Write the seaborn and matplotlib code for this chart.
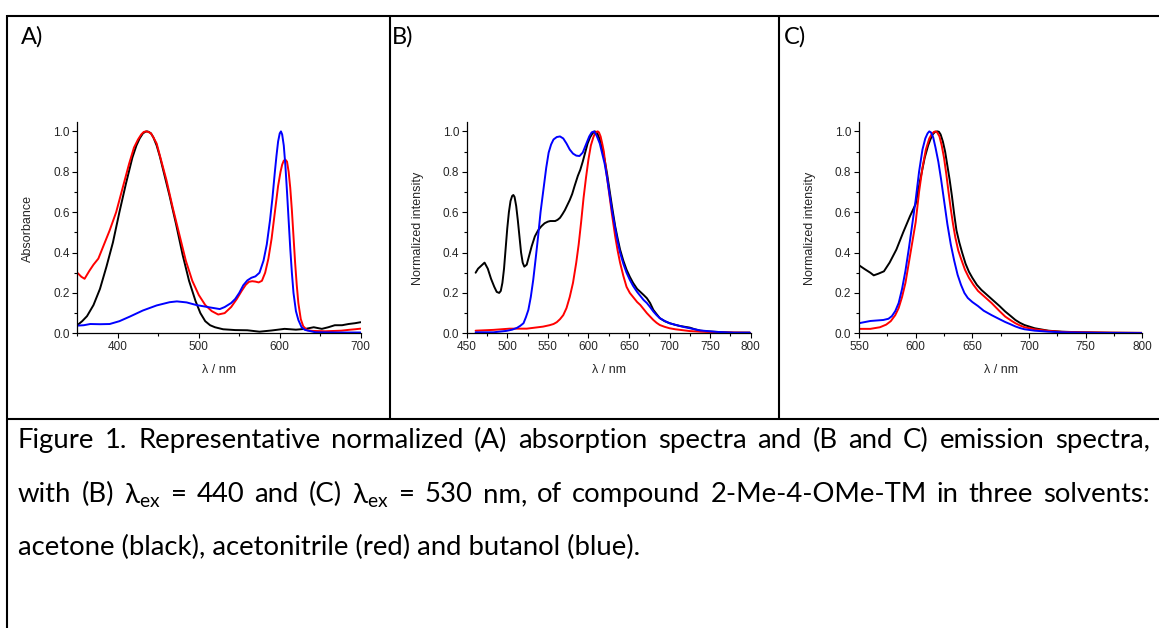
import numpy as np
import pandas as pd
import matplotlib
matplotlib.use("Agg")
import matplotlib.pyplot as plt
from matplotlib.lines import Line2D
from matplotlib.ticker import MultipleLocator, FormatStrFormatter
import seaborn as sns

# ---------------- data ----------------
# Panel A: absorption
A_black_x = [350, 356, 362, 370, 378, 386, 394, 402, 410, 418, 423, 427, 431, 434, 436, 438, 441, 444, 448, 452, 456,
             464, 472, 480, 488, 496, 502, 508, 514, 520, 530, 545, 560, 575, 590, 606, 620, 632, 642, 652, 660,
             668, 677, 685, 693, 700]
A_black_y = [0.04, 0.06, 0.085, 0.14, 0.22, 0.33, 0.45, 0.60, 0.74, 0.87, 0.93, 0.965, 0.99, 0.998, 1.0, 0.998,
             0.99, 0.97, 0.93, 0.875, 0.81, 0.68, 0.54, 0.39, 0.26, 0.16, 0.10, 0.06, 0.04, 0.03, 0.02, 0.016,
             0.015, 0.008, 0.014, 0.022, 0.018, 0.022, 0.03, 0.022, 0.03, 0.04, 0.04, 0.046, 0.05, 0.055]
A_red_x = [350, 355, 359, 365, 370, 376, 382, 390, 398, 406, 414, 420, 425, 429, 432, 435, 438, 441, 444, 448, 452,
           460, 468, 476, 484, 492, 500, 508, 516, 524, 532, 540, 547, 553, 558, 562, 566, 570, 574, 578, 582, 586,
           590, 594, 598, 601, 603, 605, 607, 609, 611, 613, 615, 617, 619, 621, 623, 626, 629, 634, 640, 656, 676,
           685, 693, 700]
A_red_y = [0.30, 0.28, 0.27, 0.31, 0.34, 0.37, 0.43, 0.51, 0.60, 0.72, 0.84, 0.92, 0.96, 0.985, 0.997, 1.0, 0.997,
           0.99, 0.97, 0.94, 0.88, 0.76, 0.62, 0.49, 0.36, 0.26, 0.19, 0.14, 0.11, 0.093, 0.10, 0.13, 0.17, 0.21,
           0.24, 0.255, 0.258, 0.256, 0.252, 0.26, 0.30, 0.37, 0.47, 0.60, 0.73, 0.80, 0.835, 0.855, 0.86, 0.85,
           0.80, 0.72, 0.61, 0.48, 0.35, 0.24, 0.15, 0.07, 0.035, 0.015, 0.012, 0.01, 0.013, 0.017, 0.02, 0.023]
A_blue_x = [350, 358, 366, 378, 390, 402, 415, 431, 448, 464, 473, 485, 497, 514, 526, 532, 540, 545, 550, 555, 560,
            565, 570, 575, 580, 584, 588, 591, 594, 596, 598, 600, 601.5, 603, 605, 607, 609, 611, 613, 615, 617,
            620, 623, 627, 631, 644, 670, 700]
A_blue_y = [0.038, 0.04, 0.046, 0.045, 0.046, 0.06, 0.083, 0.113, 0.138, 0.154, 0.158, 0.153, 0.14, 0.128, 0.12,
            0.13, 0.15, 0.17, 0.2, 0.238, 0.262, 0.275, 0.282, 0.3, 0.36, 0.44, 0.56, 0.67, 0.80, 0.88, 0.95, 0.99,
            1.0, 0.985, 0.93, 0.83, 0.70, 0.56, 0.42, 0.30, 0.20, 0.11, 0.066, 0.03, 0.017, 0.005, 0.004, 0.004]

# Panel B: emission, lambda_ex = 440 nm
B_black_x = [461, 464, 468, 472, 476, 480, 484, 487, 490, 492, 494, 496, 498, 500, 502, 504, 506, 507.5, 509, 511,
             513, 515, 517, 519, 521, 524, 527, 530, 534, 538, 542, 546, 550, 553, 556, 559, 562, 565, 568, 571, 574,
             577, 580, 583, 587, 590, 593, 596, 599, 602, 605, 608, 611, 614, 617, 620, 623, 626, 629, 633, 636, 639,
             643, 647, 651, 655, 660, 664, 668, 672, 676, 680, 684, 688, 694, 700, 707, 713, 719, 725, 731, 738, 748,
             758, 768, 779, 789, 799]
B_black_y = [0.30, 0.32, 0.335, 0.35, 0.32, 0.27, 0.23, 0.205, 0.2, 0.21, 0.25, 0.32, 0.42, 0.52, 0.60, 0.655, 0.68,
             0.685, 0.675, 0.63, 0.56, 0.48, 0.40, 0.35, 0.33, 0.34, 0.385, 0.43, 0.48, 0.51, 0.53, 0.545, 0.553,
             0.556, 0.556, 0.556, 0.562, 0.572, 0.59, 0.61, 0.635, 0.66, 0.69, 0.73, 0.78, 0.81, 0.85, 0.895, 0.94,
             0.97, 0.99, 1.0, 0.99, 0.96, 0.91, 0.86, 0.79, 0.71, 0.63, 0.53, 0.47, 0.415, 0.36, 0.315, 0.28, 0.25,
             0.22, 0.205, 0.19, 0.174, 0.15, 0.116, 0.095, 0.075, 0.06, 0.05, 0.042, 0.036, 0.032, 0.028, 0.02,
             0.013, 0.009, 0.007, 0.005, 0.003, 0.003, 0.003]
B_red_x = [461, 483, 503, 524, 544, 552, 557, 561, 565, 569, 573, 577, 581, 585, 588, 591, 594, 597, 600, 603, 606,
           608, 610, 611.5, 613, 615, 617, 619, 622, 626, 629, 633, 636, 639, 643, 647, 651, 655, 660, 664, 668, 672,
           676, 680, 684, 688, 694, 700, 707, 713, 725, 738, 758, 779, 799]
B_red_y = [0.013, 0.017, 0.023, 0.023, 0.033, 0.04, 0.046, 0.055, 0.07, 0.09, 0.125, 0.18, 0.25, 0.35, 0.44, 0.55,
           0.67, 0.77, 0.86, 0.93, 0.97, 0.99, 0.998, 1.0, 0.995, 0.975, 0.94, 0.90, 0.80, 0.68, 0.59, 0.48, 0.41,
           0.35, 0.285, 0.23, 0.2, 0.18, 0.155, 0.14, 0.12, 0.10, 0.083, 0.066, 0.052, 0.041, 0.032, 0.025, 0.02,
           0.017, 0.011, 0.008, 0.005, 0.004, 0.003]
B_blue_x = [461, 483, 499, 506, 512, 516, 520, 523, 526, 529, 532, 535, 538, 541, 544.5, 548, 551, 554, 557, 561, 565,
            569, 573, 577, 581, 585, 589, 593, 597, 601, 604, 607, 610, 614, 617, 620, 623, 626, 629, 633, 636, 639,
            643, 647, 651, 655, 660, 664, 668, 672, 676, 680, 684, 688, 694, 700, 707, 713, 719, 725, 738, 758, 779,
            799]
B_blue_y = [0.005, 0.005, 0.012, 0.018, 0.027, 0.037, 0.05, 0.08, 0.116, 0.18, 0.265, 0.37, 0.48, 0.60, 0.71, 0.82,
            0.895, 0.935, 0.96, 0.972, 0.975, 0.965, 0.94, 0.91, 0.89, 0.88, 0.878, 0.895, 0.935, 0.975, 0.995, 1.0,
            0.98, 0.94, 0.89, 0.84, 0.77, 0.69, 0.61, 0.52, 0.455, 0.40, 0.345, 0.30, 0.265, 0.235, 0.205, 0.185,
            0.165, 0.15, 0.13, 0.108, 0.09, 0.075, 0.061, 0.05, 0.042, 0.036, 0.03, 0.025, 0.014, 0.007, 0.003,
            0.003]

# Panel C: emission, lambda_ex = 530 nm
C_black_x = [550, 555, 560, 563, 567, 572, 577, 583, 589, 595, 600, 604, 608, 611, 613, 615, 617, 619, 620.5, 622,
             624, 626, 628, 630, 632, 634, 636, 638.5, 641, 644, 647, 650, 654, 658, 662, 667, 674, 679, 684, 688,
             692, 696, 705, 717, 729, 746, 773, 800]
C_black_y = [0.337, 0.318, 0.30, 0.287, 0.295, 0.307, 0.35, 0.415, 0.50, 0.58, 0.64, 0.76, 0.87, 0.93, 0.96, 0.985,
             0.997, 1.0, 0.998, 0.985, 0.95, 0.90, 0.83, 0.76, 0.68, 0.59, 0.51, 0.45, 0.40, 0.345, 0.305, 0.275,
             0.24, 0.215, 0.195, 0.17, 0.135, 0.108, 0.085, 0.066, 0.052, 0.041, 0.025, 0.013, 0.008, 0.005, 0.003,
             0.002]
C_red_x = [550, 560, 568.5, 574, 578, 582, 585, 588, 591, 594, 597, 600, 603, 606, 609, 612, 614, 616, 617.5, 619,
           621, 623, 625, 627, 629, 631, 633, 635, 637.6, 640, 643.5, 647, 651, 655, 660, 667, 674, 679, 684, 688,
           692, 696, 705, 717, 729, 746, 773, 800]
C_red_y = [0.022, 0.022, 0.03, 0.043, 0.06, 0.09, 0.125, 0.18, 0.25, 0.35, 0.45, 0.55, 0.70, 0.82, 0.91, 0.965,
           0.985, 0.997, 1.0, 0.995, 0.975, 0.93, 0.87, 0.79, 0.70, 0.615, 0.54, 0.475, 0.41, 0.37, 0.315, 0.275,
           0.24, 0.21, 0.185, 0.15, 0.11, 0.083, 0.064, 0.05, 0.039, 0.03, 0.02, 0.012, 0.007, 0.005, 0.003, 0.002]
C_blue_x = [550, 560, 571.5, 576, 579, 582, 585, 588, 591, 594, 597, 600, 603, 606, 608.5, 610.5, 612, 613.5, 615.5,
            617.5, 620, 622.5, 625, 628, 631, 634, 637, 640, 643, 646, 650, 655, 660, 667, 674, 679, 684, 688, 692,
            696, 705, 717, 729, 760, 800]
C_blue_y = [0.05, 0.061, 0.066, 0.072, 0.085, 0.11, 0.15, 0.22, 0.31, 0.42, 0.54, 0.66, 0.80, 0.91, 0.965, 0.99,
            1.0, 0.995, 0.97, 0.92, 0.85, 0.76, 0.66, 0.54, 0.44, 0.36, 0.29, 0.24, 0.2, 0.175, 0.155, 0.135, 0.112,
            0.09, 0.07, 0.056, 0.044, 0.034, 0.026, 0.02, 0.013, 0.008, 0.005, 0.002, 0.001]

panel_letters = ["A)", "B)", "C)"]
y_labels = ["Absorbance", "Normalized intensity", "Normalized intensity"]
x_label = "λ / nm"
x_limits = [(350, 700), (450, 800), (550, 800)]
x_major = [100, 50, 50]
x_minor = [50, 25, 25]

caption_lines = [
    "Figure 1. Representative normalized (A) absorption spectra and (B and C) emission spectra,",
    r"with (B) λ$_{\mathregular{ex}}$ = 440 and (C) λ$_{\mathregular{ex}}$ = 530 nm, of compound 2-Me-4-OMe-TM in three solvents:",
    "acetone (black), acetonitrile (red) and butanol (blue).",
]

series = {
    0: [(A_black_x, A_black_y, "black"), (A_red_x, A_red_y, "red"), (A_blue_x, A_blue_y, "blue")],
    1: [(B_black_x, B_black_y, "black"), (B_red_x, B_red_y, "red"), (B_blue_x, B_blue_y, "blue")],
    2: [(C_black_x, C_black_y, "black"), (C_red_x, C_red_y, "red"), (C_blue_x, C_blue_y, "blue")],
}
color_map = {"black": "#000000", "red": "#ff0000", "blue": "#0000ff"}

# ---------------- style ----------------
sns.set_style("ticks")
plt.rcParams["font.family"] = ["Liberation Sans", "DejaVu Sans"]
plt.rcParams["mathtext.fontset"] = "custom"

W, H = 1159, 628
fig = plt.figure(figsize=(W / 100, H / 100), dpi=100)
fig.patch.set_facecolor("white")

def px_rect(left, top, right, bottom):
    return [left / W, 1 - bottom / H, (right - left) / W, (bottom - top) / H]

axes_px = [(77.3, 122.3, 360.7, 333.3), (466.7, 122.3, 750.7, 333.3), (859.0, 122.3, 1142.3, 333.3)]
tick_col = "#262626"

for i, (l, t, r, b) in enumerate(axes_px):
    ax = fig.add_axes(px_rect(l, t, r, b))
    for xs, ys, cname in series[i]:
        df = pd.DataFrame({"x": xs, "y": ys})
        sns.lineplot(data=df, x="x", y="y", ax=ax, color=color_map[cname], linewidth=1.4,
                     estimator=None, sort=False, legend=False)
    ax.set_xlim(*x_limits[i])
    ax.set_ylim(0, 1.045)
    ax.xaxis.set_major_locator(MultipleLocator(x_major[i]))
    ax.xaxis.set_minor_locator(MultipleLocator(x_minor[i]))
    ax.yaxis.set_major_locator(MultipleLocator(0.2))
    ax.yaxis.set_minor_locator(MultipleLocator(0.1))
    ax.yaxis.set_major_formatter(FormatStrFormatter("%.1f"))
    ax.tick_params(which="major", direction="out", length=3.5, width=0.8, labelsize=8.5,
                   colors="black", labelcolor=tick_col, pad=2)
    ax.tick_params(which="minor", direction="out", length=2, width=0.8, colors="black")
    for s in ["top", "right"]:
        ax.spines[s].set_visible(False)
    for s in ["left", "bottom"]:
        ax.spines[s].set_linewidth(0.9)
        ax.spines[s].set_color("black")
    ax.set_xlabel(x_label, fontsize=9, color=tick_col)
    ax.set_ylabel(y_labels[i], fontsize=9, color=tick_col)
    wpx = r - l
    hpx = b - t
    ax.yaxis.set_label_coords(-43 / wpx, (333.3 - 228) / hpx)
    ax.xaxis.set_label_coords(0.5, -31 / hpx)
    ax.set_facecolor("white")

# ---------------- table frame ----------------
lw = 1.5
def hline(y, x0, x1):
    fig.add_artist(Line2D([x0 / W, x1 / W], [1 - y / H, 1 - y / H], color="black", lw=lw,
                          transform=fig.transFigure, solid_capstyle="butt"))
def vline(x, y0, y1):
    fig.add_artist(Line2D([x / W, x / W], [1 - y0 / H, 1 - y1 / H], color="black", lw=lw,
                          transform=fig.transFigure, solid_capstyle="butt"))

hline(15.7, 6.5, W)
hline(419.0, 6.5, W)
vline(7.3, 15.0, H)
vline(390.3, 15.0, 419.5)
vline(779.0, 15.0, 419.5)

# ---------------- panel letters ----------------
cap_font = ["Lato", "DejaVu Sans"]
for letter, xpx in zip(panel_letters, [21, 392, 784]):
    fig.text(xpx / W, 1 - 37 / H, letter, fontsize=17, family=cap_font, ha="left", va="center",
             color="black")

# ---------------- caption (justified) ----------------
fig.canvas.draw()
rend = fig.canvas.get_renderer()

def text_width(s, fs):
    t = fig.text(0, 0, s, fontsize=fs, family=cap_font)
    wdt = t.get_window_extent(rend).width
    t.remove()
    return wdt

x_left, x_right = 18.0, 1150.0
target3 = 643.0 - x_left
fs0 = 14.0
fs = fs0 * target3 / text_width(caption_lines[2], fs0)

line_y = [438, 492, 545]
for k, line in enumerate(caption_lines):
    words = line.split(" ")
    if k < 2:
        widths = [text_width(wd, fs) for wd in words]
        gap = (x_right - x_left - sum(widths)) / (len(words) - 1)
        x = x_left
        for wd, ww in zip(words, widths):
            fig.text(x / W, 1 - line_y[k] / H, wd, fontsize=fs, family=cap_font,
                     ha="left", va="center_baseline", color="black")
            x += ww + gap
    else:
        fig.text(x_left / W, 1 - line_y[k] / H, line, fontsize=fs, family=cap_font,
                 ha="left", va="center_baseline", color="black")

fig.savefig("out.png", dpi=100, facecolor="white")
